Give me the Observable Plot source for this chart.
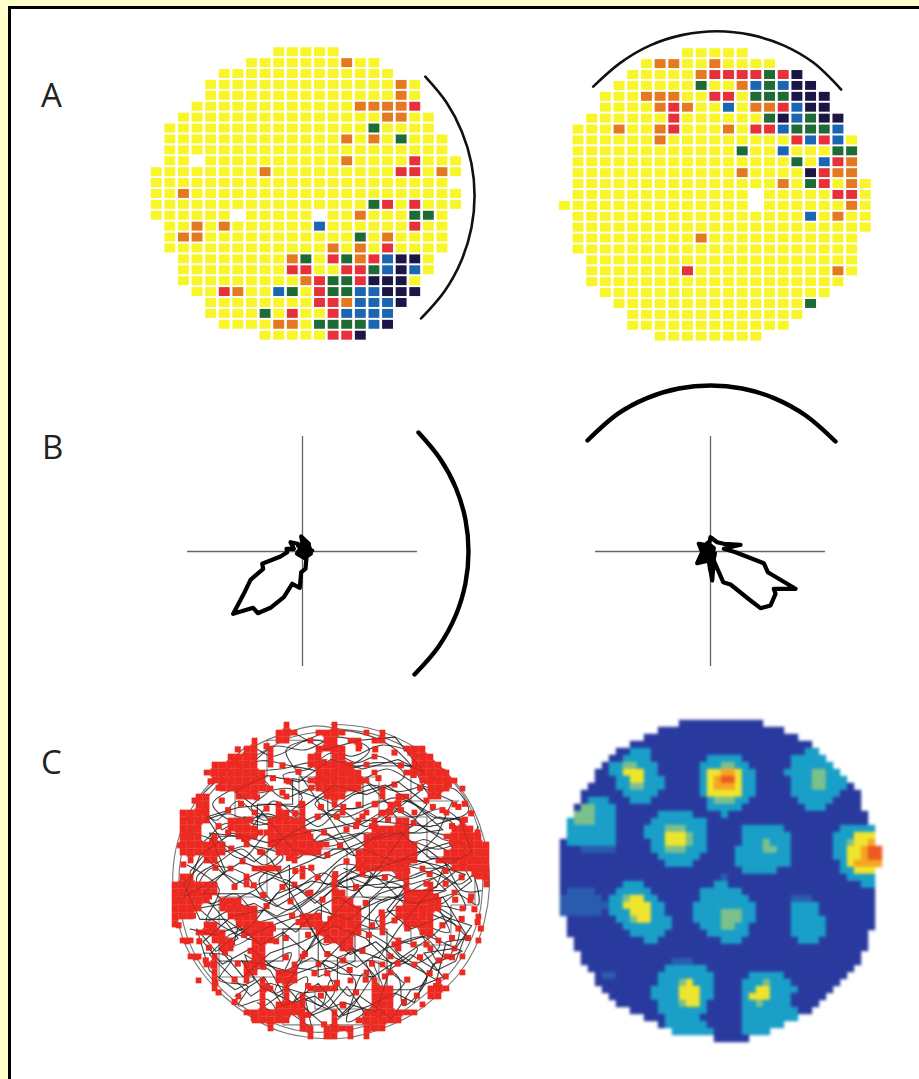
<!DOCTYPE html>
<html><head><meta charset="utf-8">
<script src="https://cdn.jsdelivr.net/npm/d3@7"></script>
<script src="https://cdn.jsdelivr.net/npm/@observablehq/plot@0.6"></script>
<style>
html,body{margin:0;padding:0;background:#ffffcc;overflow:hidden}
#page{position:relative;width:919px;height:1079px;overflow:hidden}
#frame{position:absolute;left:8px;top:6px;width:911px;height:1073px;background:#fff;border-left:3px solid #000;border-top:3px solid #000;box-sizing:border-box}
.lab{position:absolute;font-family:"Open Sans",sans-serif;font-size:33px;line-height:33px;color:#222}
</style></head><body><div id="page"><div id="frame"></div>
<div class="lab" style="left:41px;top:78px">A</div>
<div class="lab" style="left:42px;top:430px">B</div>
<div class="lab" style="left:41px;top:745px">C</div>
</div>
<script>
// run-length rows: count + level letter, "." = no sample
const gridLeft = ["9.5y","7.7yo2y","5.13y","4.14yoy","4.14yoy","3.12y4or","2.15y2o2y",".15yg4y",".13yoyoyg3y",".21y",".2y.10yo4yr3y","8yo9y2ryoy","22y","2yo20y","16ygryr3y","6y.5y.2yo3y2gy",".2yoyo6yb6yr2y",".y2o11ygyo4y",".12yoyoyr4y","2.8yogyrgorb2ky","2.8y2r2y2rgbkby","2.9yor2gr3ky","3.2yro2ybgyr2g2b3k","4.8y2ro3bk","4.4ygyr2yr4b","5.4y2oy4gbk","8.5y2rk"];
const gridRight = ["9.5y","6.y2o2yo4y","5.5yo4rgrk","4.6yg2yobgb2k","3.3y3o2y2ry3g3k","3.4yoro2yby2orb2k","2.6yr6ygkbg2k",".3yo2yor3yoy2rb3gb",".6yo9yrbrby",".12yg2yb3y2g",".16ygybro",".12yo4ykr2o",".15yoygryoy",".13y.5y2ry","14y.6yoy",".17ybyo2y",".22y",".9yo11y",".21y","2.20y","2.7yr10yoy","2.19y","3.17y","4.14yg","5.13y","5.12y","7.8y"];
const gridLevels = ["y","o","r","g","b","k"];
const gridColors = ["#f8f529","#e5791f","#e8303a","#1f6b35","#1a66b2","#1c1647"];

const arcLeftCol = [19.74,21.31,22.41,23.13,23.36,23.13,22.41,21.18,19.43];
const arcLeftRow = [2.25,4.64,7.25,10.2,13.15,16.09,19.05,21.87,24.42];
const arcRightCol = [2.07,4.08,6.24,8.63,11.12,13.61,15.99,18.16,20.2];
const arcRightRow = [3.06,0.86,-0.72,-1.68,-2.02,-1.68,-0.72,0.86,3.33];

const tuneLeftX = [-15.3,-22,-40.3,-39.3,-52,-58.7,-69.3,-49.3,-44.7,-32,-18.7,-10.3,-2.7,-1.3,3,4,-3,9.7,2,6.3,-1.3,1,-4.7,-12,-8.7,-16,-15.3];
const tuneLeftY = [-0.7,-5,-12.3,-17.3,-28.3,-42.3,-62.3,-56.3,-61.7,-56.3,-45.7,-32.3,-36.3,-20.7,-17.3,-5.7,-2,1,2,7.7,15,2,7.7,9.3,2.7,2.7,-0.7];
const coreLeftX = [-4,6,8,2,-5,-2,4,7,0];
const coreLeftY = [6,6,-2,-6,-2,3,2,3,1];
const tuneRightX = [30,13.3,25,53.3,57.3,85,63.3,65,60,50,40,20,12.7,3.3,1.7,-1.7,-13.3,-8.3,-11.7,-1.7,0,6.7,13.3,30];
const tuneRightY = [6.7,2.7,-0.7,-11.7,-20.7,-37.3,-37.3,-42.3,-54,-56.7,-49,-33,-30.7,-9,-29,-9,-11.7,-0.7,7.7,6,14.3,9.3,7.7,6.7];
const coreRightX = [-9,-5,-7,-2,0,3,-3,-6,2,4,0,-1];
const coreRightY = [-6,-9,3,6,-4,3,8,-2,-12,-2,-18,-6];
const bowLeftX = [116,137.6,153.4,163,166,163,153.4,136,112];
const bowLeftY = [119,92.8,63.5,31.7,0,-31.7,-63.5,-95.2,-123];
const bowRightX = [-123,-92.8,-63.5,-31.7,0,31.7,63.5,95.2,125];
const bowRightY = [111,137.6,153.4,163,166,163,153.4,136,110];

// estimated occupied bins of the spike positions: one list of columns per row
const spikeCols = [
[14,20],[13,14,15,18,19,20,21,24,26],[10,13,14,17,19,20,22,23,25,26],[9,10,12,18,19,20,21,23,29,30,31],
[7,8,9,10,12,17,18,20,21,25,30,31,32],[5,6,7,8,9,10,12,17,18,19,20,21,22,24,30,31,32,33],
[4,5,6,7,8,9,10,11,18,19,20,21,22,23,25,29,30,31,32,33,34],[5,6,7,8,9,10,11,14,17,18,19,20,21,22,23,24,31,32,33,34,35],
[6,7,8,9,10,11,12,18,19,20,21,22,23,26,32,33,34,36],[3,4,8,9,10,14,19,20,21,26,28,29,32,33],
[3,4,13,16,20,23,25,27,28,35],[1,2,3,4,10,13,14,16,21,24,26,27,30,34],
[1,2,3,4,7,8,9,12,13,14,15,16,23,25,28,29,36],[1,2,3,7,8,9,10,12,13,14,15,16,25,26,27,28,29,35,36,37],
[1,2,3,5,8,9,10,12,13,14,15,16,17,24,25,26,27,28,29,34,35,36,37,38],[1,2,3,4,5,6,9,12,13,14,15,16,17,18,19,24,25,26,27,28,29,30,35,36,37,38,39],
[1,2,3,4,5,6,11,13,14,15,16,17,18,23,24,25,26,27,28,29,30,34,35,36,37,38,39],[2,4,5,15,23,24,25,26,27,28,29,30,33,34,35,36,37,38,39],
[7,10,11,12,13,16,23,24,25,26,27,28,29,31,35,36,37,38,39],[1,2,9,16,20,28,29,38,39],
[0,1,2,3,4,5,9,15,20,29,32,39],[0,1,2,3,4,5,17,20,21,29,30,31,32,35],
[0,1,2,3,4,6,7,8,20,21,22,29,30,31,32,33,37],[0,1,2,3,6,7,8,9,10,20,21,22,23,28,29,30,31,32,33,36],
[0,1,2,7,8,9,10,16,17,18,20,21,22,23,26,28,29,30,31,32,38],[0,4,5,8,9,10,11,12,16,17,18,19,20,21,22,23,26,29,30,31,32],
[3,4,5,6,9,10,11,12,18,19,20,21,22,23,26,31,32],[1,2,5,6,7,10,11,12,19,20,21,22,28,33,38],
[6,7,10,11,21,22,28,32,35],[2,3,5,10,11,16,27,34,36],[4,5,9,10,11,15,18,26,30],[5,9,10,13,14,15,24,27,36],
[3,5,9,11,13,14,15,22,25,33],[5,11,12,14,17,18,19,20,25,26,27,32,33,34],[8,11,14,16,25,26,27,32,33],
[11,13,14,15,16,21,25,26,27,31],[9,10,11,12,13,14,15,16,20,24,25,26,27,28,29,30],[10,11,12,13,14,16,20,23,24,25,26,27,28],
[12,16,17,19,20,21,22,24,25,26],[17,19,20,22,24]];
// single spikes scattered between the clusters (arena units)
const extraSpikes = [[-55,12],[-48,-3],[-38,8],[-30,-4],[-22,6],[-14,-8],[-8,2],[-60,-4],[-42,-9],[-25,-13],[-5,-12],[3,4],[6,-8],[-30,55],[-18,48],[-8,40],[0,55],[8,46],[14,58],[20,40],[28,48],[36,38],[-40,45],[-46,52],[-4,30],[10,32],[-24,30],[60,-2],[66,-10],[72,6],[58,-20],[62,-34],[48,-30],[40,-25],[32,-20],[22,-14],[16,-4],[-66,-45],[-58,-52],[-50,-44],[-42,-54],[-40,-66],[-16,-46],[-10,-58],[-2,-46],[-6,-72],[4,-64],[12,-56],[16,-70],[26,-52],[34,-60],[42,-52],[48,-62],[56,-48],[60,-40],[68,-50],[76,-36],[82,-24],[88,-10],[72,-60],[66,-66],[-74,-30],[-82,-38],[-86,-22],[-78,-50],[-60,-62],[-72,-64],[-75,62],[-70,58],[-60,74],[-48,78],[-30,72],[-26,62],[-20,68],[-8,78],[2,86],[18,84],[28,82],[44,72],[52,66],[64,46],[80,46],[84,38],[92,30],[-88,40],[-94,22],[-92,10],[-96,-12],[-95,-28],[-88,-2],[-72,8],[-62,20],[96,6],[90,-18],[94,-30],[78,-12],[-34,-38],[-28,-48],[-20,-26],[-8,-22],[-46,-28],[-52,-18],[-66,-14],[44,10],[52,18],[38,22],[30,30],[-12,18],[-2,16],[6,22],[22,8],[-36,24],[-44,30],[-70,34],[-64,44],[-54,58],[40,60],[58,72],[74,60],[30,64],[10,68],[-6,64],[76,24],[84,14],[24,-34],[36,-72],[54,-72],[-24,-62],[-32,-84],[-14,-66]];
const extraSpikes2 = [[-90,30],[-85,50],[-78,44],[-68,50],[-56,48],[-50,38],[-40,30],[-32,40],[-22,42],[-14,30],[-6,46],[4,40],[16,34],[26,34],[32,42],[44,44],[52,36],[60,50],[70,44],[76,34],[84,48],[88,42],[64,64],[70,68],[-58,82],[-40,84],[-36,64],[-12,58],[-4,74],[40,80],[50,80],[56,58],[-90,-38],[-84,-48],[-76,-42],[-68,-34],[-62,-40],[-54,-34],[-46,-48],[-36,-30],[-28,-36],[-24,-22],[-14,-34],[-6,-30],[0,-24],[8,-40],[16,-30],[-2,-58],[8,-50],[20,-44],[-14,-84],[-4,-90],[8,-78],[22,-62],[40,-40],[52,-40],[70,-28],[76,-48],[86,-36],[62,-58],[46,-76],[30,-84],[-60,-76],[-48,-86],[-70,-70],[-40,-16],[-60,-14],[-76,-10],[-84,-8],[10,12],[20,4],[34,2],[48,6],[62,4],[72,-2],[82,2],[90,4],[12,-18],[26,-28],[56,-10],[50,-20],[80,-30],[92,-26],[-12,8],[-26,14],[-44,18],[-54,26],[-74,24],[-64,30]];

// rat's path through the arena, read approximately; arena radius = 100
const ringPath = [[0,98],[22,96],[40,90],[58,80],[72,68],[85,52],[93,35],[98,15],[99,-5],[96,-25],[90,-42],[80,-58],[66,-72],[50,-84],[30,-93],[10,-98],[-12,-98],[-32,-94],[-50,-85],[-66,-73],[-80,-58],[-91,-40],[-97,-20],[-99,0],[-97,20],[-91,38],[-80,56],[-66,70],[-50,83],[-30,92],[-10,97],[6,95],[26,92],[46,84],[62,74],[78,60],[88,44],[94,24],[95,2],[93,-20],[86,-40],[74,-58],[60,-70],[44,-82],[24,-90],[4,-94],[-18,-94],[-38,-88],[-56,-78],[-72,-64],[-84,-48],[-92,-28],[-95,-6],[-94,14],[-88,34],[-76,54],[-62,68],[-44,80],[-24,90],[0,94]];
const wanderA = [[-90,10],[-70,-5],[-78,-25],[-55,-15],[-60,-40],[-40,-30],[-48,-55],[-25,-45],[-35,-70],[-15,-60],[-20,-85],[2,-70],[-5,-50],[15,-62],[10,-88],[30,-72],[22,-50],[42,-60],[45,-78],[60,-60],[40,-42],[58,-35],[72,-48],[80,-30],[60,-18],[78,-8],[92,-15],[85,10],[65,2],[45,-10],[30,-25],[12,-15],[25,5],[5,10],[-10,-8],[-28,-18],[-45,0],[-30,15],[-52,22],[-72,18],[-85,32],[-65,42],[-45,35],[-25,40],[-10,25],[10,30],[28,18],[48,25],[68,20],[85,30],[70,45],[50,40],[32,50],[12,45],[-8,52],[-28,58],[-48,55],[-65,62],[-45,75],[-25,72],[-5,68],[15,62],[35,70],[55,60],[72,58],[55,78],[32,85],[12,78],[-8,88],[-28,82],[-15,60],[0,38],[18,12],[38,-6],[55,-25],[68,-40],[50,-52],[33,-38],[14,-30],[-4,-40],[-18,-25],[-38,-38],[-65,-30],[-85,-12],[-75,8],[-55,5],[-40,-12],[-22,-5],[-5,5],[14,-6],[35,8],[58,12],[80,-2],[92,8]];
const wanderB = [[-60,-72],[-42,-60],[-30,-78],[-10,-72],[5,-85],[18,-72],[38,-86],[50,-68],[70,-60],[58,-45],[78,-42],[88,-28],[70,-22],[50,-30],[35,-18],[48,-2],[30,-8],[12,-24],[-8,-18],[-22,-32],[-42,-18],[-62,-22],[-80,-38],[-68,-52],[-50,-42],[-32,-58],[-12,-48],[6,-58],[28,-60],[12,-42],[30,-48],[42,-30],[62,-6],[78,6],[60,20],[40,12],[20,20],[2,20],[-14,12],[-34,4],[-56,12],[-78,-2],[-92,-10],[-82,16],[-62,30],[-40,24],[-18,30],[4,34],[22,38],[42,36],[62,34],[80,40],[88,18],[72,10],[52,2],[30,-2],[8,-4],[-12,0],[-34,-8],[-50,-28],[-70,-42],[-55,-60],[-38,-45],[-18,-38],[2,-28],[22,-36],[38,-52],[28,-82],[8,-76],[-12,-84],[-28,-66],[-10,-35],[8,-14],[22,-2],[40,22],[60,48],[42,62],[22,54],[2,60],[-18,46],[-38,48],[-58,46],[-78,40],[-66,22],[-48,12],[-28,28],[-6,40],[14,54],[34,60],[50,50],[70,32],[56,30],[34,30],[14,22],[-4,14],[-24,20],[-44,44],[-60,56],[-40,66],[-20,62],[0,76],[20,70],[42,76],[58,68],[40,90],[18,88],[-4,82],[-22,92]];
const wanderC = [[-70,-50],[-50,-50],[-30,-50],[-30,-30],[-8,-30],[-8,-60],[15,-50],[15,-30],[35,-30],[35,-68],[55,-68],[66,-50],[48,-18],[70,-14],[88,0],[74,24],[54,18],[34,34],[16,10],[-6,-12],[-6,-34],[-26,-12],[-26,10],[-48,-6],[-66,-14],[-88,-18],[-88,6],[-70,28],[-46,28],[-46,48],[-24,48],[-24,64],[-2,60],[-2,44],[20,46],[20,64],[40,44],[58,58],[76,50],[66,28],[46,8],[24,-12],[24,-40],[4,-48],[4,-68],[-18,-70],[-38,-64],[-50,-72],[-62,-60],[-76,-46],[-64,-34],[-46,-26],[-24,-20],[-2,-4],[20,4],[42,-2],[60,-12],[76,-22],[64,-34],[44,-48],[26,-60],[14,-78],[-2,-92],[-18,-78],[-34,-84],[-46,-76]];
const wanderD = [[-80,-45],[-62,-48],[-70,-62],[-52,-66],[-58,-78],[-40,-74],[-28,-88],[-20,-70],[-6,-78],[0,-62],[12,-72],[20,-58],[32,-66],[26,-48],[44,-52],[54,-42],[40,-36],[28,-24],[44,-18],[60,-28],[74,-32],[68,-16],[84,-18],[76,-2],[60,6],[44,2],[30,14],[14,6],[-2,-2],[-16,8],[-32,-6],[-46,-20],[-60,-8],[-76,-14],[-84,2],[-70,12],[-56,20],[-42,10],[-26,22],[-12,32],[6,26],[24,30],[40,18],[58,26],[76,18],[88,24],[80,38],[64,40],[48,50],[30,42],[14,34],[-4,42],[-22,36],[-40,42],[-58,36],[-74,48],[-60,58],[-44,62],[-30,52],[-12,58],[6,52],[24,60],[44,56],[62,64],[48,72],[28,74],[8,70],[-12,74],[-32,70],[-50,70],[-36,84],[-16,82],[4,90],[24,82],[-2,64],[-20,54]];
const wanderE = [[-88,-30],[-72,-34],[-58,-28],[-44,-40],[-30,-32],[-16,-44],[-2,-34],[12,-46],[28,-38],[40,-48],[56,-56],[66,-62],[72,-38],[86,-36],[70,-10],[52,-14],[36,-10],[18,-18],[4,-10],[-14,-20],[-32,-26],[-52,-34],[-66,-24],[-82,-24],[-92,-2],[-78,14],[-60,-2],[-44,6],[-26,0],[-10,-14],[8,0],[28,8],[48,14],[66,10],[84,4],[70,-6],[50,-6],[30,-14],[10,-36],[-6,-52],[-22,-58],[-42,-52],[-56,-50],[-44,-66],[-24,-76],[-8,-64],[8,-84],[24,-78],[40,-70],[52,-76],[64,-52],[82,-44],[60,-34],[34,-42],[16,-54],[-4,-44],[-20,-16],[-38,14],[-58,28],[-76,30],[-66,6],[-80,-8],[-50,-8],[-34,-16],[-14,-4],[6,14],[26,26],[44,30],[62,14],[80,14]];
const wanderF = [[-60,-30],[-20,-30],[-20,-50],[30,-50],[30,-68],[-10,-68],[-10,-80],[20,-80],[20,-90],[-30,-90],[-30,-60],[-70,-60],[-70,-10],[-40,-10],[-40,20],[10,20],[10,-10],[50,-10],[50,-40],[75,-40],[75,-15],[90,-15],[90,15],[60,15],[60,40],[30,40],[30,65],[-20,65],[-20,40],[-60,40],[-60,65],[-40,65],[-40,88],[0,88],[0,72],[50,72],[50,50],[80,50]];
const wanderG = [[8,8],[22,2],[36,4],[50,-2],[64,2],[72,-6],[60,-10],[44,-4],[28,-4],[12,2],[20,-10],[34,-12],[48,-8],[66,-4],[70,8],[54,8],[38,12],[22,12],[6,4],[-6,-6],[-20,-14],[-34,-22],[-48,-14],[-62,-18],[-72,-8],[-86,-8],[-94,4],[-84,-4],[-70,-20],[-58,-36],[-72,-44],[-84,-30],[-76,-56],[-60,-68],[-48,-62],[-54,-46],[-38,-56],[-30,-70],[-44,-80],[-26,-82],[-12,-92],[-16,-74],[-2,-80],[10,-66],[22,-84],[34,-78],[46,-64],[36,-56],[50,-46],[66,-56],[78,-50],[84,-34],[74,-24],[58,-12],[42,-24],[26,-30],[10,-24],[-4,-26],[-12,-40],[-24,-54],[-10,-56],[2,-54],[14,-42],[-2,-18],[-18,-6],[-36,2],[-50,-4],[-66,4],[-78,22],[-90,24],[-80,44],[-68,32],[-54,40],[-36,34],[-18,22],[0,26],[18,30],[36,26],[54,36],[70,26],[86,22],[92,34]];
const wanderH = [[-70,60],[-54,68],[-38,58],[-50,46],[-34,40],[-18,52],[-30,66],[-14,70],[0,80],[16,74],[30,78],[46,66],[30,58],[16,66],[4,58],[-10,48],[8,40],[24,46],[40,52],[56,46],[72,38],[86,44],[76,58],[62,54],[52,70],[38,84],[20,92],[2,94],[-16,88],[-36,78],[-52,84],[-68,66],[-82,50],[-72,38],[-58,50],[-42,38],[-24,44],[-8,34],[6,44],[22,34],[36,44],[50,30],[68,40],[82,30],[90,12],[78,26],[60,32],[44,44],[28,36],[12,26],[-6,22],[-20,38],[-36,50],[-52,32],[-66,36],[-84,22],[-92,30],[-74,26],[-56,14],[-38,30],[-22,14],[-4,30],[14,16],[32,22],[50,10],[68,14],[82,-6],[94,-6]];

// firing-rate map read as bands, run-length per row
const rateRows = ["17.12d","14.18d","12.22d","10.26d","8.2d3t22d2t","7.2d4t8d5t7d5t","6.d2t2g3t6d3t2g2t6d6t","5.2d2t3y2t6dt2y2oy2t4d4t2g2t","5.3d2t2y3t5dtyo2ry2t5d3t2g3t","4.4d2t2g3t5dty3oy2t5d3t2g3td","3.6d5t6dt5y2t5d7t3d","3.d3t3d3t8dt3g2t7d5t4d","2.d2g3t13d5t9d3t5d","2.3g3t6d5t4dt20d",".t3g3t5d8t23d",".7t4d3t3g3t5d6t8d5t",".7t4d3t3yg2t5d7t6d3t3y","d7t5d2t3yg2t5d3tg3t6d2tg2yo","3d5m5d2t3g3t4d4t2g2t6d2t2yo2r","14d6t5d8t6d2t2yo2r","15d4t6d8t7dty4o","26d5t9d2t3y","23dm17d4t","9d3t10d2t19d2t","d4m3d5t7d6t19d","6md2tg2y2t6d7t6d3m9d","7m2t4y2t4d9t5d4t8d","6md3t3y2t4d4t3g2t5d4t8d",".7d2tg2y3t3d4t3g2t5d5t7d",".8d7t4d3t2g2t6d5t7d",".9d5t6d6t6d5t6d","2.10d2t9d3t8d3t7d","2.42d","3.40d","3.13d3m24d","4.11d6t21d","5.d2m6d8t5d5t9d","5.9d3tgy3t4d3tg3t7d","6.7d4t3y2t4d2t2y4t5d","7.6d4t3y2t4dt3y3t5d","8.6d3tg2yt5d2tg4t4d","10.4d7t5d8t2d","12.3d5t6d8t","14.d6t5d6t","16.6t4d4t","22.5d"];
const rateLevels = ["d","m","t","g","y","o","r"];
const rateColors = ["#2a3a9e","#2a5cae","#1a9fc8","#7cc08c","#efe42e","#f5a524","#ec5a24"];

function expand(rows){
  const out=[];
  rows.forEach((s,row)=>{let col=0;
    for(const m of s.matchAll(/(\d*)([a-z.])/g)){
      const n=m[1]?+m[1]:1;
      for(let i=0;i<n;i++){ if(m[2]!==".") out.push({col,row,level:m[2]}); col++; }
    }});
  return out;
}
const pairs=(xs,ys)=>xs.map((x,i)=>({x,y:ys[i]}));
const page=document.getElementById("page");
function place(svg,left,top){svg.style.position="absolute";svg.style.left=left+"px";svg.style.top=top+"px";svg.style.maxWidth="none";svg.style.background="transparent";page.appendChild(svg);}

function gridPanel(rows,ax,ay,w,left,top){
  const cells=expand(rows);
  place(Plot.plot({width:w,height:338,margin:0,
    x:{domain:[-2,26],axis:null},y:{domain:[28,-3],axis:null},
    color:{domain:gridLevels,range:gridColors},
    style:{filter:"blur(0.35px)"},
    marks:[
      Plot.rect(cells,{x1:d=>d.col-0.40,x2:d=>d.col+0.40,y1:d=>d.row-0.41,y2:d=>d.row+0.41,fill:"level"}),
      Plot.line(pairs(ax,ay),{x:"x",y:"y",curve:"catmull-rom",stroke:"#14100c",strokeWidth:2.6,strokeLinecap:"round"})
    ]}),left,top);
}
gridPanel(gridLeft,arcLeftCol,arcLeftRow,381,129,19);
gridPanel(gridRight,arcRightCol,arcRightRow,383,537,20);

function tuningPanel(tx,ty,cx,cy,bx,by,xd,yd,left,top){
  place(Plot.plot({width:xd[1]-xd[0],height:yd[1]-yd[0],margin:0,
    x:{domain:xd,axis:null},y:{domain:yd,axis:null},
    style:{filter:"blur(0.35px)"},
    marks:[
      Plot.ruleX([0],{y1:-115,y2:115,stroke:"#666",strokeWidth:1.3}),
      Plot.ruleY([0],{x1:-115,x2:115,stroke:"#666",strokeWidth:1.3}),
      Plot.line(pairs(tx,ty),{x:"x",y:"y",stroke:"#000",strokeWidth:4.2,strokeLinejoin:"round",curve:"linear"}),
      Plot.line(pairs(cx,cy),{x:"x",y:"y",stroke:"#000",strokeWidth:5,strokeLinejoin:"round",strokeLinecap:"round",curve:"linear"}),
      Plot.line(pairs(bx,by),{x:"x",y:"y",stroke:"#000",strokeWidth:4.4,curve:"catmull-rom",strokeLinecap:"round"})
    ]}),left,top);
}
tuningPanel(tuneLeftX,tuneLeftY,coreLeftX,coreLeftY,bowLeftX,bowLeftY,[-120,175],[-130,125],182,426);
tuningPanel(tuneRightX,tuneRightY,coreRightX,coreRightY,bowRightX,bowRightY,[-130,130],[-120,175],580,376);

// trajectory + spikes: a bin grows toward an occupied neighbour, so clusters merge and lone bins stay small
const occupied=new Set(spikeCols.flatMap((cols,j)=>cols.map(i=>j*100+i)));
const has=(j,i)=>occupied.has(j*100+i);
const spikes=spikeCols.flatMap((cols,j)=>cols.map(i=>{
  const x=-100+(i+.5)*5,y=100-(j+.5)*5;
  return {x1:x-(has(j,i-1)?2.6:1.8),x2:x+(has(j,i+1)?2.6:1.8),y1:y-(has(j+1,i)?2.6:1.8),y2:y+(has(j-1,i)?2.6:1.8)};
}));
const lone=[...extraSpikes,...extraSpikes2].map(([x,y])=>({x1:x-1.9,x2:x+1.9,y1:y-1.9,y2:y+1.9}));
const pt=p=>p.map(([x,y])=>({x,y}));
const curved={x:"x",y:"y",stroke:"#1c1c1c",strokeWidth:1.1,strokeOpacity:0.8,curve:"catmull-rom"};
const kinked={...curved,curve:"linear"};
place(Plot.plot({width:339,height:339,margin:0,
  x:{domain:[-106,106],axis:null},y:{domain:[-106,106],axis:null},
  style:{filter:"blur(0.5px)"},
  marks:[
    Plot.line(pt(ringPath),{...curved,strokeOpacity:.6}),
    Plot.line(pt(wanderA),curved),Plot.line(pt(wanderB),kinked),Plot.line(pt(wanderC),kinked),
    Plot.line(pt(wanderD),curved),Plot.line(pt(wanderE),kinked),Plot.line(pt(wanderF),{...kinked,strokeOpacity:.55}),
    Plot.line(pt(wanderG),kinked),Plot.line(pt(wanderH),curved),
    Plot.rect(spikes,{x1:"x1",x2:"x2",y1:"y1",y2:"y2",fill:"#ec2a22"}),
    Plot.rect(lone,{x1:"x1",x2:"x2",y1:"y1",y2:"y2",fill:"#ec2a22"}),
    Plot.line(pt(wanderB),{...kinked,strokeOpacity:.2}),
    Plot.line(pt(wanderE),{...kinked,strokeOpacity:.2})
  ]}),161,711);

// rate map
place(Plot.plot({width:336,height:336,margin:0,
  x:{domain:[-1,47],axis:null},y:{domain:[47,-1],axis:null},
  color:{domain:rateLevels,range:rateColors},
  style:{filter:"blur(1.8px)"},
  marks:[Plot.rect(expand(rateRows),{x1:"col",x2:d=>d.col+1,y1:"row",y2:d=>d.row+1,fill:"level",stroke:"level",strokeWidth:.4})]
}),553,713);
</script></body></html>
